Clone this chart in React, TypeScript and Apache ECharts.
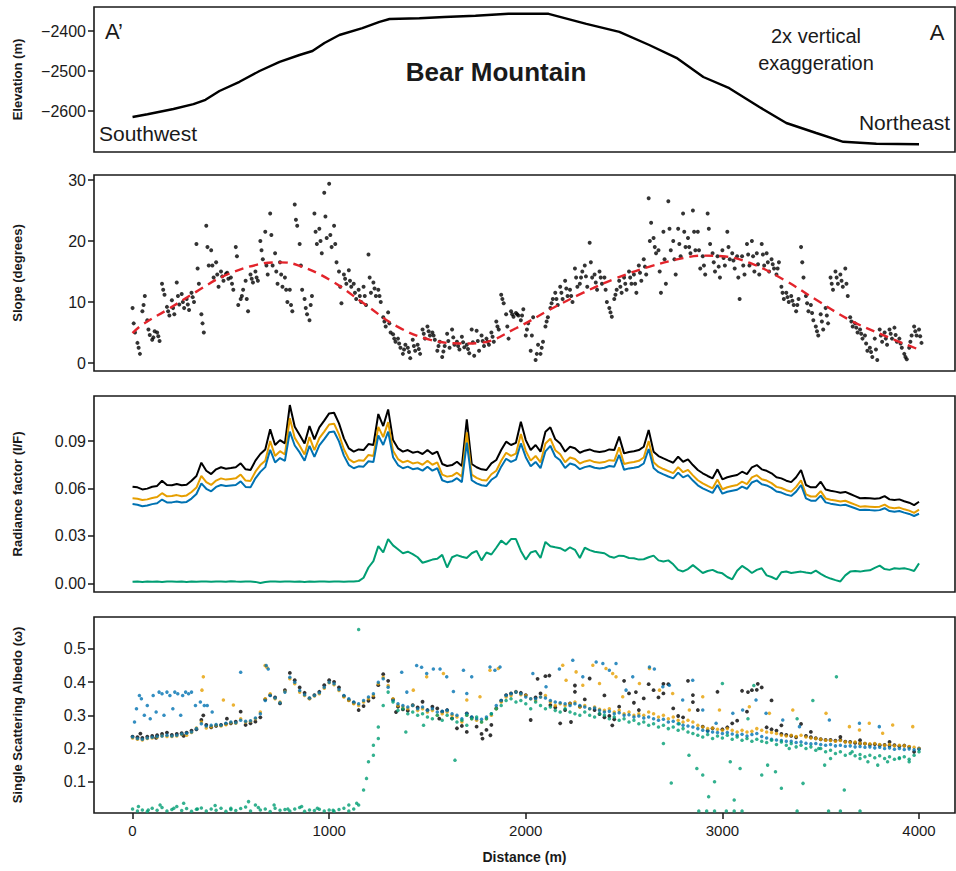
import React, { useEffect, useRef } from "react";
import * as echarts from "echarts";

// Sampling positions along the profile (m)
const distance = [
  0, 25, 50, 75, 100, 125, 150, 175, 200, 225, 250, 275, 300, 325, 350, 375,
  400, 425, 450, 475, 500, 525, 550, 575, 600, 625, 650, 675, 700, 725, 750, 775,
  800, 825, 850, 875, 900, 925, 950, 975, 1000, 1025, 1050, 1075, 1100, 1125, 1150, 1175,
  1200, 1225, 1250, 1275, 1300, 1325, 1350, 1375, 1400, 1425, 1450, 1475, 1500, 1525, 1550, 1575,
  1600, 1625, 1650, 1675, 1700, 1725, 1750, 1775, 1800, 1825, 1850, 1875, 1900, 1925, 1950, 1975,
  2000, 2025, 2050, 2075, 2100, 2125, 2150, 2175, 2200, 2225, 2250, 2275, 2300, 2325, 2350, 2375,
  2400, 2425, 2450, 2475, 2500, 2525, 2550, 2575, 2600, 2625, 2650, 2675, 2700, 2725, 2750, 2775,
  2800, 2825, 2850, 2875, 2900, 2925, 2950, 2975, 3000, 3025, 3050, 3075, 3100, 3125, 3150, 3175,
  3200, 3225, 3250, 3275, 3300, 3325, 3350, 3375, 3400, 3425, 3450, 3475, 3500, 3525, 3550, 3575,
  3600, 3625, 3650, 3675, 3700, 3725, 3750, 3775, 3800, 3825, 3850, 3875, 3900, 3925, 3950, 3975,
  4000,
];

const elevationProfile = [
  [0, -2615], [76, -2608], [208, -2595], [310, -2583], [371, -2572], [442, -2550], [544, -2527],
  [646, -2500], [748, -2477], [849, -2460], [915, -2450], [976, -2430], [1052, -2410], [1169, -2393],
  [1256, -2377], [1307, -2370], [1459, -2368], [1586, -2365], [1744, -2362], [1912, -2357],
  [2116, -2357], [2308, -2382], [2476, -2402], [2628, -2435], [2766, -2467], [2903, -2515],
  [3035, -2543], [3188, -2590], [3325, -2630], [3477, -2655], [3615, -2677], [3783, -2682], [4000, -2683],
];

const slopeA = [
  9.0, 3.3, 8.5, 7.0, 3.8, 5.0, 13.0, 9.2,
  10.3, 13.2, 11.3, 10.5, 11.5, 19.5, 8.0, 22.5,
  18.5, 16.5, 15.0, 14.6, 14.0, 19.0, 10.5, 13.5,
  14.5, 15.0, 20.0, 21.5, 24.5, 18.0, 16.5, 14.0,
  12.0, 26.0, 19.5, 10.5, 7.0, 24.5, 22.0, 27.9,
  29.4, 22.5, 15.0, 14.5, 15.2, 13.0, 12.0, 12.5,
  17.8, 13.2, 12.0, 7.5, 8.3, 4.7, 4.0, 1.5,
  2.5, 3.8, 3.0, 5.5, 6.0, 5.0, 2.0, 1.0,
  4.8, 5.5, 3.5, 4.3, 3.0, 5.5, 5.3, 4.5,
  4.0, 5.0, 6.8, 11.2, 8.0, 8.5, 8.2, 7.0,
  4.5, 2.0, 0.5, 1.5, 6.0, 9.0, 11.5, 12.5,
  13.5, 12.0, 15.5, 13.0, 16.0, 19.7, 14.5, 15.0,
  14.0, 9.0, 10.5, 13.5, 14.0, 15.0, 14.5, 16.0,
  17.0, 27.0, 20.5, 18.5, 21.5, 26.5, 20.0, 22.0,
  24.5, 20.5, 25.0, 21.5, 17.5, 24.5, 18.0, 17.5,
  18.5, 21.5, 18.0, 17.5, 17.5, 19.5, 20.0, 18.0,
  19.5, 18.0, 17.0, 14.5, 12.5, 11.5, 11.0, 8.5,
  19.0, 11.0, 9.5, 6.0, 8.0, 9.0, 14.0, 15.0,
  14.5, 15.5, 7.5, 6.5, 5.5, 4.5, 2.5, 4.0,
  5.5, 5.0, 5.5, 5.8, 4.0, 1.5, 2.5, 6.0,
  5.5,
];

const slopeB = [
  5.0, 1.5, 11.0, 4.6, 5.2, 3.6, 11.2, 7.8,
  8.0, 9.6, 9.0, 8.7, 10.0, 13.0, 5.0, 16.0,
  14.0, 12.5, 13.5, 13.8, 12.0, 9.5, 12.0, 8.5,
  13.2, 13.5, 17.0, 14.5, 16.0, 13.0, 12.5, 10.0,
  8.5, 22.5, 12.0, 8.0, 11.0, 19.5, 18.0, 20.5,
  19.0, 16.5, 9.8, 13.0, 12.5, 10.5, 10.0, 9.5,
  11.5, 11.0, 10.0, 6.0, 5.0, 3.5, 2.5, 3.0,
  0.8, 2.0, 1.5, 4.0, 4.5, 3.8, 3.5, 2.8,
  2.5, 3.0, 2.2, 2.6, 1.6, 1.2, 2.0, 2.8,
  3.0, 3.5, 5.5, 9.8, 4.0, 7.6, 7.8, 8.8,
  6.5, 7.5, 3.0, 3.5, 7.5, 10.5, 9.5, 10.5,
  11.0, 10.0, 12.5, 15.0, 12.5, 14.0, 12.0, 13.0,
  10.0, 7.6, 12.0, 11.5, 12.0, 13.0, 11.5, 13.5,
  14.5, 23.0, 18.0, 11.5, 13.0, 18.5, 14.5, 17.5,
  19.0, 18.0, 18.5, 15.5, 14.5, 19.5, 15.0, 14.0,
  16.0, 17.0, 15.5, 10.5, 14.5, 16.0, 15.0, 14.5,
  16.0, 15.0, 15.5, 16.5, 10.5, 10.0, 9.5, 10.5,
  14.0, 8.5, 7.0, 4.5, 5.5, 6.5, 12.0, 13.0,
  12.5, 11.0, 6.0, 5.0, 4.0, 2.0, 1.0, 0.5,
  3.5, 3.0, 4.0, 3.5, 2.5, 0.6, 4.5, 4.5,
  3.3,
];

const slopeC = [
  6.5, 2.5, 9.5, 5.5, 4.2, 4.4, 12.0, 8.5,
  9.0, 11.0, 10.0, 9.6, 10.8, 15.5, 6.5, 19.0,
  16.0, 14.5, 14.2, 14.8, 13.0, 17.5, 11.0, 10.5,
  13.8, 14.0, 18.5, 16.0, 21.0, 15.0, 14.5, 12.0,
  9.5, 23.5, 16.0, 9.0, 9.5, 21.5, 20.0, 24.0,
  21.0, 19.5, 12.5, 13.8, 13.5, 11.5, 11.0, 11.0,
  14.0, 12.2, 11.0, 6.8, 6.5, 4.0, 3.2, 2.2,
  1.8, 2.8, 2.3, 4.8, 5.2, 4.5, 2.8, 1.9,
  3.6, 4.2, 2.8, 3.4, 2.3, 3.4, 3.6, 3.6,
  3.5, 4.3, 6.0, 10.5, 6.0, 8.0, 8.0, 7.8,
  5.5, 4.5, 1.5, 2.5, 6.8, 9.8, 10.5, 11.5,
  12.2, 11.0, 14.0, 14.0, 14.2, 16.5, 13.2, 14.0,
  12.0, 8.3, 11.2, 12.5, 13.0, 14.0, 13.0, 14.8,
  15.8, 20.0, 19.0, 15.0, 17.0, 22.0, 17.0, 19.5,
  21.5, 19.0, 21.5, 18.5, 16.0, 22.0, 16.5, 15.8,
  17.2, 19.0, 16.8, 14.0, 16.0, 17.8, 17.5, 16.2,
  17.8, 16.5, 16.2, 15.5, 11.5, 10.8, 10.2, 9.5,
  16.5, 9.8, 8.2, 5.2, 6.8, 7.8, 13.0, 14.0,
  13.5, 13.0, 6.8, 5.8, 4.8, 3.2, 1.8, 2.2,
  4.5, 4.0, 4.8, 4.6, 3.2, 1.0, 3.5, 5.2,
  4.4,
];

const slopeTrend = [
  [0, 4.9], [50, 6.3], [175, 8.7], [325, 11.7], [460, 14.2], [630, 16.1], [750, 16.5], [835, 16.1],
  [1000, 13.7], [1175, 9.8], [1345, 6.0], [1515, 3.8], [1680, 3.2], [1770, 3.3], [1950, 5.7],
  [2120, 8.7], [2290, 11.5], [2460, 13.9], [2630, 15.8], [2800, 17.2], [2900, 17.6], [3000, 17.5],
  [3140, 16.4], [3310, 13.7], [3475, 10.4], [3645, 7.1], [3815, 4.6], [4000, 2.2],
];

const radianceBlack = [
  0.0611, 0.0607, 0.0594, 0.0599, 0.0611, 0.0616, 0.0649, 0.0622,
  0.062, 0.0628, 0.062, 0.0624, 0.0649, 0.0679, 0.0763, 0.0712,
  0.0691, 0.0721, 0.0734, 0.0725, 0.0729, 0.0734, 0.0759, 0.0721,
  0.0717, 0.0776, 0.0818, 0.0847, 0.0974, 0.0875, 0.0906, 0.0885,
  0.1128, 0.0991, 0.0938, 0.0885, 0.0995, 0.0911, 0.0987, 0.1029,
  0.1075, 0.1079, 0.1012, 0.0917, 0.0854, 0.0833, 0.0847, 0.0843,
  0.0881, 0.0875, 0.1071, 0.0995, 0.11, 0.0906, 0.0854, 0.0833,
  0.0843, 0.0826, 0.0833, 0.0818, 0.0843, 0.0818, 0.0833, 0.0755,
  0.0742, 0.0748, 0.0769, 0.0742, 0.1037, 0.0755, 0.0734, 0.0721,
  0.0717, 0.0759, 0.078, 0.0843, 0.0896, 0.0875, 0.0889, 0.1022,
  0.0906, 0.0843, 0.0875, 0.0833, 0.0959, 0.0987, 0.0911, 0.0885,
  0.0833, 0.0864, 0.0854, 0.0826, 0.0839, 0.0847, 0.0835, 0.0831,
  0.0835, 0.0847, 0.0843, 0.0928, 0.0822, 0.0831, 0.0835, 0.0843,
  0.0864, 0.097, 0.0833, 0.0805, 0.079, 0.0776, 0.0763, 0.0801,
  0.0769, 0.0784, 0.0748, 0.0717, 0.0696, 0.0679, 0.0664, 0.0721,
  0.0658, 0.0671, 0.0679, 0.0685, 0.0706, 0.0691, 0.0734, 0.0748,
  0.0721, 0.0712, 0.0696, 0.0671, 0.0664, 0.0649, 0.064, 0.0671,
  0.0717, 0.0622, 0.0607, 0.0607, 0.0643, 0.0594, 0.0586, 0.058,
  0.0573, 0.0578, 0.0565, 0.0552, 0.0538, 0.054, 0.0538, 0.0535,
  0.0538, 0.0552, 0.0531, 0.0527, 0.0531, 0.0519, 0.051, 0.0495,
  0.0516,
];

const radianceOrange = [
  0.0538, 0.0535, 0.0527, 0.0531, 0.054, 0.0546, 0.057, 0.055,
  0.0552, 0.0558, 0.0551, 0.0556, 0.0578, 0.0606, 0.068, 0.064,
  0.0622, 0.065, 0.0664, 0.0656, 0.066, 0.0664, 0.0688, 0.065,
  0.0648, 0.0706, 0.0748, 0.0776, 0.09, 0.0806, 0.0836, 0.0815,
  0.1045, 0.092, 0.087, 0.0815, 0.0925, 0.0842, 0.0918, 0.096,
  0.1005, 0.101, 0.0942, 0.0848, 0.0786, 0.0765, 0.0778, 0.0775,
  0.0812, 0.0806, 0.099, 0.0925, 0.102, 0.0838, 0.0786, 0.0765,
  0.0775, 0.0758, 0.0765, 0.075, 0.0775, 0.075, 0.0765, 0.0688,
  0.0675, 0.068, 0.07, 0.0675, 0.0955, 0.0688, 0.0667, 0.0654,
  0.065, 0.069, 0.0712, 0.0775, 0.0826, 0.0806, 0.082, 0.0945,
  0.0838, 0.0776, 0.0806, 0.0765, 0.0885, 0.0915, 0.0842, 0.0816,
  0.0766, 0.0796, 0.0786, 0.0758, 0.0771, 0.0779, 0.0767, 0.0763,
  0.0767, 0.0779, 0.0775, 0.086, 0.0755, 0.0763, 0.0767, 0.0775,
  0.0796, 0.09, 0.0766, 0.0738, 0.0723, 0.071, 0.0697, 0.0735,
  0.0703, 0.0718, 0.0683, 0.0652, 0.0632, 0.0616, 0.0601, 0.0656,
  0.0595, 0.0608, 0.0616, 0.0622, 0.0643, 0.0628, 0.067, 0.0684,
  0.0658, 0.065, 0.0634, 0.061, 0.0603, 0.0589, 0.058, 0.061,
  0.0652, 0.0563, 0.0549, 0.0549, 0.0583, 0.0537, 0.0529, 0.0524,
  0.0517, 0.0522, 0.051, 0.0498, 0.0485, 0.0487, 0.0485, 0.0482,
  0.0485, 0.0498, 0.0479, 0.0475, 0.0479, 0.0468, 0.046, 0.0446,
  0.0466,
];

const radianceBlue = [
  0.0501, 0.0497, 0.0488, 0.0492, 0.0501, 0.0506, 0.053, 0.0512,
  0.0512, 0.0518, 0.0511, 0.0515, 0.0536, 0.0565, 0.0632, 0.0598,
  0.0582, 0.061, 0.0622, 0.0615, 0.0619, 0.0622, 0.0645, 0.061,
  0.0607, 0.0664, 0.0705, 0.0735, 0.0845, 0.0765, 0.0792, 0.0775,
  0.096, 0.0872, 0.0828, 0.0775, 0.087, 0.08, 0.0872, 0.0912,
  0.0955, 0.096, 0.0898, 0.0808, 0.0748, 0.0728, 0.074, 0.0738,
  0.0772, 0.0767, 0.0935, 0.0875, 0.096, 0.0798, 0.0748, 0.0728,
  0.0738, 0.0722, 0.0728, 0.0713, 0.0738, 0.0713, 0.0728, 0.0652,
  0.064, 0.0645, 0.0665, 0.064, 0.089, 0.0652, 0.0632, 0.062,
  0.0616, 0.0655, 0.0676, 0.0738, 0.0788, 0.0768, 0.0782, 0.0885,
  0.0798, 0.074, 0.0768, 0.0728, 0.0835, 0.087, 0.0802, 0.0778,
  0.073, 0.0758, 0.0748, 0.0722, 0.0735, 0.0742, 0.0731, 0.0727,
  0.0731, 0.0742, 0.0738, 0.0812, 0.0718, 0.0727, 0.0731, 0.0738,
  0.0758, 0.085, 0.073, 0.0703, 0.0689, 0.0676, 0.0664, 0.07,
  0.067, 0.0684, 0.065, 0.062, 0.0601, 0.0586, 0.0572, 0.0622,
  0.0567, 0.0579, 0.0586, 0.0592, 0.0612, 0.0598, 0.0638, 0.0651,
  0.0627, 0.0619, 0.0604, 0.0581, 0.0574, 0.0561, 0.0553, 0.058,
  0.0622, 0.0537, 0.0523, 0.0523, 0.0555, 0.0512, 0.0504, 0.0499,
  0.0493, 0.0497, 0.0486, 0.0475, 0.0463, 0.0465, 0.0463, 0.046,
  0.0463, 0.0475, 0.0457, 0.0453, 0.0457, 0.0447, 0.0439, 0.0426,
  0.044,
];

const radianceGreen = [
  0.001, 0.0011, 0.0009, 0.0012, 0.001, 0.0011, 0.0009, 0.0012,
  0.0011, 0.001, 0.0012, 0.0009, 0.0011, 0.001, 0.0012, 0.0011,
  0.001, 0.0012, 0.0011, 0.001, 0.0013, 0.0011, 0.001, 0.0012,
  0.0011, 0.0009, 0.0002, 0.0008, 0.0011, 0.0012, 0.001, 0.0011,
  0.0012, 0.001, 0.0011, 0.0009, 0.0012, 0.001, 0.0011, 0.0012,
  0.001, 0.0011, 0.0012, 0.001, 0.0011, 0.0012, 0.0014, 0.0035,
  0.01, 0.014, 0.0235, 0.0195, 0.028, 0.024, 0.0215, 0.019,
  0.02, 0.0185, 0.0165, 0.013, 0.014, 0.015, 0.0155, 0.018,
  0.01, 0.0165, 0.0178, 0.0168, 0.016, 0.019, 0.0205, 0.0145,
  0.0195, 0.0182, 0.0225, 0.027, 0.0245, 0.028, 0.028, 0.0205,
  0.015, 0.0195, 0.0205, 0.016, 0.0262, 0.0235, 0.0228, 0.0222,
  0.0205, 0.0228, 0.0212, 0.016, 0.0225, 0.021, 0.02, 0.0195,
  0.019, 0.017, 0.0162, 0.0175, 0.0172, 0.016, 0.0158, 0.015,
  0.0152, 0.0165, 0.0175, 0.0145, 0.0138, 0.0145, 0.012, 0.0085,
  0.0075, 0.009, 0.0115, 0.009, 0.0065, 0.0078, 0.0085, 0.007,
  0.0063, 0.004, 0.0025, 0.008, 0.011, 0.009, 0.0065, 0.0085,
  0.0095, 0.005, 0.004, 0.0025, 0.007, 0.0075, 0.0065, 0.007,
  0.0074, 0.0068, 0.0063, 0.008, 0.006, 0.0042, 0.003, 0.002,
  0.0012, 0.005, 0.0074, 0.0078, 0.0074, 0.008, 0.0082, 0.0098,
  0.0112, 0.009, 0.0085, 0.0095, 0.0092, 0.0095, 0.0088, 0.0078,
  0.0126,
];

const albedoBlack = [
  0.236, 0.234, 0.232, 0.236, 0.238, 0.24, 0.244, 0.248,
  0.241, 0.244, 0.246, 0.248, 0.254, 0.258, 0.286, 0.271,
  0.264, 0.268, 0.271, 0.274, 0.276, 0.281, 0.311, 0.271,
  0.276, 0.281, 0.294, 0.348, 0.361, 0.354, 0.336, 0.376,
  0.428, 0.406, 0.384, 0.368, 0.351, 0.361, 0.371, 0.391,
  0.406, 0.401, 0.384, 0.358, 0.346, 0.338, 0.316, 0.328,
  0.344, 0.354, 0.391, 0.424, 0.404, 0.348, 0.326, 0.318,
  0.314, 0.331, 0.324, 0.341, 0.316, 0.326, 0.321, 0.311,
  0.316, 0.291, 0.261, 0.268, 0.306, 0.294, 0.266, 0.244,
  0.256, 0.271, 0.321, 0.344, 0.361, 0.366, 0.371, 0.368,
  0.361, 0.286, 0.354, 0.366, 0.418, 0.331, 0.324, 0.276,
  0.316, 0.336, 0.371, 0.326, 0.348, 0.411, 0.316, 0.304,
  0.294, 0.298, 0.288, 0.326, 0.404, 0.366, 0.338, 0.316,
  0.351, 0.394, 0.376, 0.354, 0.366, 0.394, 0.321, 0.298,
  0.294, 0.404, 0.361, 0.316, 0.266, 0.254, 0.261, 0.371,
  0.258, 0.264, 0.276, 0.284, 0.374, 0.311, 0.376, 0.377,
  0.384, 0.264, 0.258, 0.254, 0.244, 0.241, 0.238, 0.234,
  0.274, 0.238, 0.234, 0.231, 0.228, 0.226, 0.226, 0.224,
  0.226, 0.221, 0.22, 0.217, 0.215, 0.215, 0.212, 0.213,
  0.21, 0.211, 0.209, 0.21, 0.207, 0.209, 0.205, 0.19,
  0.2,
];

const albedoOrange = [
  0.232, 0.228, 0.226, 0.23, 0.232, 0.234, 0.238, 0.236,
  0.236, 0.238, 0.242, 0.24, 0.248, 0.262, 0.28, 0.262,
  0.266, 0.27, 0.268, 0.272, 0.278, 0.276, 0.29, 0.28,
  0.282, 0.29, 0.31, 0.35, 0.365, 0.35, 0.34, 0.372,
  0.41, 0.395, 0.37, 0.36, 0.35, 0.358, 0.365, 0.382,
  0.398, 0.392, 0.375, 0.355, 0.345, 0.335, 0.33, 0.34,
  0.35, 0.36, 0.395, 0.415, 0.39, 0.35, 0.33, 0.325,
  0.32, 0.33, 0.315, 0.32, 0.31, 0.315, 0.3, 0.305,
  0.31, 0.3, 0.295, 0.28, 0.3, 0.29, 0.285, 0.28,
  0.29, 0.3, 0.32, 0.34, 0.355, 0.36, 0.37, 0.362,
  0.36, 0.35, 0.345, 0.355, 0.36, 0.34, 0.33, 0.335,
  0.33, 0.335, 0.34, 0.325, 0.33, 0.32, 0.325, 0.318,
  0.315, 0.32, 0.31, 0.315, 0.305, 0.31, 0.3, 0.305,
  0.3, 0.31, 0.305, 0.295, 0.3, 0.29, 0.295, 0.285,
  0.28, 0.285, 0.28, 0.27, 0.265, 0.26, 0.262, 0.258,
  0.255, 0.26, 0.255, 0.25, 0.255, 0.25, 0.252, 0.26,
  0.255, 0.25, 0.248, 0.245, 0.24, 0.238, 0.24, 0.236,
  0.24, 0.235, 0.232, 0.23, 0.228, 0.225, 0.224, 0.222,
  0.224, 0.22, 0.218, 0.22, 0.216, 0.215, 0.214, 0.215,
  0.212, 0.21, 0.212, 0.208, 0.21, 0.208, 0.206, 0.204,
  0.2,
];

const albedoBlue = [
  0.235, 0.23, 0.228, 0.232, 0.234, 0.236, 0.238, 0.24,
  0.238, 0.24, 0.244, 0.246, 0.25, 0.26, 0.275, 0.268,
  0.27, 0.272, 0.27, 0.276, 0.28, 0.278, 0.285, 0.282,
  0.284, 0.292, 0.305, 0.345, 0.36, 0.352, 0.338, 0.37,
  0.415, 0.4, 0.375, 0.362, 0.352, 0.36, 0.368, 0.385,
  0.4, 0.395, 0.378, 0.36, 0.35, 0.34, 0.335, 0.345,
  0.355, 0.365, 0.4, 0.41, 0.385, 0.345, 0.335, 0.33,
  0.325, 0.33, 0.32, 0.325, 0.315, 0.32, 0.31, 0.312,
  0.315, 0.305, 0.3, 0.29, 0.305, 0.295, 0.29, 0.288,
  0.295, 0.305, 0.33, 0.345, 0.36, 0.365, 0.37, 0.365,
  0.355, 0.35, 0.35, 0.355, 0.352, 0.345, 0.34, 0.338,
  0.335, 0.33, 0.335, 0.33, 0.325, 0.32, 0.322, 0.315,
  0.31, 0.312, 0.305, 0.308, 0.3, 0.302, 0.295, 0.298,
  0.292, 0.295, 0.29, 0.285, 0.288, 0.28, 0.282, 0.275,
  0.27, 0.268, 0.265, 0.26, 0.255, 0.252, 0.25, 0.248,
  0.245, 0.248, 0.244, 0.24, 0.243, 0.238, 0.242, 0.245,
  0.236, 0.232, 0.228, 0.226, 0.224, 0.222, 0.222, 0.218,
  0.22, 0.216, 0.214, 0.215, 0.212, 0.21, 0.212, 0.208,
  0.21, 0.207, 0.208, 0.205, 0.206, 0.204, 0.205, 0.202,
  0.204, 0.2, 0.202, 0.198, 0.2, 0.197, 0.199, 0.196,
  0.198,
];

const albedoGreen = [
  0.018, 0.012, 0.015, 0.01, 0.02, 0.014, 0.022, 0.012,
  0.016, 0.025, 0.013, 0.019, 0.011, 0.017, 0.021, 0.012,
  0.018, 0.014, 0.02, 0.011, 0.016, 0.013, 0.019, 0.024,
  0.012, 0.03, 0.015, 0.018, 0.01, 0.02, 0.014, 0.016,
  0.012, 0.018, 0.022, 0.011, 0.015, 0.013, 0.017, 0.012,
  0.015, 0.011, 0.016, 0.02, 0.012, 0.018, 0.03, 0.075,
  0.16, 0.21, 0.265, 0.33, 0.37, 0.34, 0.315, 0.32,
  0.305, 0.31, 0.3, 0.305, 0.295, 0.29, 0.3, 0.285,
  0.3, 0.29, 0.28, 0.285, 0.3, 0.29, 0.295, 0.28,
  0.29, 0.305, 0.32, 0.33, 0.345, 0.35, 0.34, 0.345,
  0.335, 0.32, 0.34, 0.33, 0.32, 0.325, 0.315, 0.31,
  0.32, 0.31, 0.305, 0.3, 0.31, 0.3, 0.295, 0.305,
  0.3, 0.29, 0.295, 0.285, 0.29, 0.28, 0.285, 0.275,
  0.28, 0.27, 0.275, 0.265, 0.27, 0.26, 0.265, 0.255,
  0.26, 0.25, 0.245, 0.24, 0.235, 0.242, 0.23, 0.238,
  0.232, 0.24, 0.228, 0.235, 0.225, 0.23, 0.222, 0.228,
  0.222, 0.218, 0.225, 0.212, 0.22, 0.21, 0.215, 0.205,
  0.21, 0.2, 0.205, 0.195, 0.2, 0.19, 0.195, 0.185,
  0.19, 0.18, 0.185, 0.178, 0.182, 0.175, 0.18, 0.172,
  0.178, 0.17, 0.175, 0.168, 0.172, 0.175, 0.168, 0.18,
  0.19,
];

const albedoBlueScatter = [
  [10, 0.28], [20, 0.32], [35, 0.36], [45, 0.35], [60, 0.3], [75, 0.33], [90, 0.29], [105, 0.36],
  [120, 0.31], [135, 0.37], [150, 0.365], [160, 0.3], [175, 0.37], [190, 0.36], [205, 0.32], [215, 0.37],
  [230, 0.365], [245, 0.3], [255, 0.36], [270, 0.37], [285, 0.365], [300, 0.37], [320, 0.33], [345, 0.34],
  [365, 0.33], [380, 0.33], [405, 0.31], [550, 0.43], [680, 0.45], [690, 0.44], [1369, 0.43], [1395, 0.37],
  [1445, 0.45], [1470, 0.445], [1496, 0.426], [1530, 0.44], [1564, 0.44], [1598, 0.416], [1632, 0.372],
  [1683, 0.436], [1700, 0.366], [1725, 0.416], [1818, 0.446], [1843, 0.436], [1869, 0.446], [2036, 0.426],
  [2103, 0.386], [2171, 0.44], [2239, 0.466], [2290, 0.416], [2358, 0.461], [2392, 0.456], [2425, 0.436],
  [2459, 0.456], [2510, 0.376], [2544, 0.416], [2629, 0.446], [2654, 0.44], [2697, 0.386], [2730, 0.391],
  [2798, 0.346], [2849, 0.406], [2900, 0.316], [2968, 0.276], [3053, 0.306], [3103, 0.316], [3171, 0.346],
  [3222, 0.306], [3307, 0.286], [3392, 0.266], [3544, 0.286], [3697, 0.276], [3798, 0.266],
];

const albedoOrangeScatter = [
  [353, 0.376], [360, 0.416], [462, 0.346], [513, 0.331], [674, 0.45], [683, 0.445], [1428, 0.376],
  [1496, 0.416], [1581, 0.426], [1700, 0.346], [1767, 0.356], [1818, 0.436], [1860, 0.441], [2188, 0.451],
  [2205, 0.406], [2256, 0.431], [2290, 0.391], [2341, 0.451], [2375, 0.396], [2408, 0.441], [2442, 0.426],
  [2459, 0.416], [2493, 0.356], [2578, 0.396], [2629, 0.441], [2680, 0.376], [2747, 0.366], [2832, 0.316],
  [2900, 0.356], [2985, 0.316], [3137, 0.326], [3239, 0.306], [3358, 0.316], [3527, 0.306], [3646, 0.266],
  [3697, 0.256], [3747, 0.276], [3815, 0.246], [3866, 0.271], [3968, 0.266],
];

const albedoBlackScatter = [
  [40, 0.245], [120, 0.232], [260, 0.238], [360, 0.3], [480, 0.29], [1340, 0.31], [1560, 0.29],
  [1700, 0.25], [1780, 0.23], [1820, 0.24], [2060, 0.41], [2120, 0.42], [2230, 0.28], [2250, 0.39],
  [2400, 0.36], [2440, 0.27], [2560, 0.37], [2700, 0.395], [2850, 0.34], [3130, 0.37], [3180, 0.395],
  [3250, 0.345], [3300, 0.27], [3450, 0.25], [3600, 0.235], [3700, 0.225], [3850, 0.22],
];

const albedoGreenScatter = [
  [30, 0.025], [80, 0.015], [140, 0.03], [210, 0.02], [260, 0.035], [330, 0.018], [420, 0.028], [500, 0.02],
  [590, 0.04], [640, 0.022], [720, 0.03], [790, 0.018], [860, 0.025], [940, 0.02], [1020, 0.014], [1100, 0.03],
  [1140, 0.035], [1150, 0.559], [1190, 0.11], [1225, 0.18], [1250, 0.23], [1390, 0.25], [1480, 0.27],
  [1640, 0.165], [1700, 0.27], [2700, 0.215], [2740, 0.096], [2780, 0.275], [2830, 0.18], [2870, 0.14],
  [2900, 0.12], [2930, 0.055], [2960, 0.1], [3000, 0.396], [3040, 0.16], [3060, 0.045], [3090, 0.14],
  [3130, 0.29], [3160, 0.39], [3200, 0.12], [3230, 0.15], [3270, 0.13], [3300, 0.08], [3340, 0.2],
  [3380, 0.29], [3410, 0.095], [3460, 0.345], [3490, 0.2], [3520, 0.15], [3550, 0.17], [3580, 0.416],
  [3620, 0.075], [3660, 0.19], [3700, 0.17], [3740, 0.16], [3790, 0.15], [3840, 0.16], [3900, 0.17],
  [3950, 0.16], [2880, 0.012], [2920, 0.012], [2960, 0.012], [3020, 0.012], [3060, 0.012], [3100, 0.012],
  [3380, 0.012], [3540, 0.012], [3600, 0.012], [3700, 0.012],
];

const distanceTicks = [0, 1000, 2000, 3000, 4000];
const elevationTicks = [-2600, -2500, -2400];
const slopeTicks = [0, 10, 20, 30];
const radianceTicks = [0, 0.03, 0.06, 0.09];
const albedoTicks = [0.1, 0.2, 0.3, 0.4, 0.5];

const C_BLACK = "#000000";
const C_ORANGE = "#E69F00";
const C_BLUE = "#0072B2";
const C_GREEN = "#009E73";
const C_RED = "#E3242B";
const FONT = "Liberation Sans, Arial, Helvetica, sans-serif";
const INK = "#1a1a1a";

const pair = (vals: number[]) => distance.map((d, i) => [d, vals[i]]);
const pairShift = (vals: number[], s: number) => distance.map((d, i) => [d + s, vals[i]]);

export default function App() {
  const ref = useRef<HTMLDivElement>(null);

  useEffect(() => {
    if (!ref.current) return;
    const chart = echarts.init(ref.current, null, { renderer: "svg" });

    const grids = [
      { left: 94, right: 1, top: 7, height: 145 },
      { left: 94, right: 1, top: 175, height: 196 },
      { left: 94, right: 1, top: 396, height: 196 },
      { left: 94, right: 1, top: 617, height: 196 },
    ].map((g) => ({ ...g, show: true, borderColor: INK, borderWidth: 1.6, backgroundColor: "transparent" }));

    const xAxisBase = (i: number) => ({
      type: "value",
      gridIndex: i,
      min: -196,
      max: 4183,
      axisLine: { show: false, onZero: false },
      splitLine: { show: false },
      axisTick: {
        show: i === 3,
        customValues: distanceTicks,
        length: 6,
        lineStyle: { color: INK, width: 1.5 },
      },
      axisLabel: {
        show: i === 3,
        customValues: distanceTicks,
        fontSize: 15,
        color: INK,
        fontFamily: FONT,
        margin: 10,
        formatter: (v: number) => String(v),
      },
      name: i === 3 ? "Distance (m)" : "",
      nameLocation: "middle",
      nameGap: 37,
      nameTextStyle: { fontSize: 14, fontWeight: "bold", color: INK, fontFamily: FONT },
    });

    const yAxisBase = (i: number, min: number, max: number, ticks: number[], name: string, fmt: (v: number) => string) => ({
      type: "value",
      gridIndex: i,
      min,
      max,
      position: "left",
      axisLine: { show: false, onZero: false },
      splitLine: { show: false },
      axisTick: { show: true, customValues: ticks, length: 6, lineStyle: { color: INK, width: 1.5 } },
      axisLabel: {
        show: true,
        customValues: ticks,
        fontSize: 16,
        color: INK,
        fontFamily: FONT,
        margin: 8,
        formatter: fmt,
      },
      name,
      nameLocation: "middle",
      nameRotate: 90,
      nameGap: 70,
      nameTextStyle: { fontSize: 13, fontWeight: "bold", color: INK, fontFamily: FONT },
    });

    const minus = (v: number) => (v < 0 ? "\u2212" + Math.abs(v) : String(v));

    const scatter = (name: string, xi: number, data: number[][], color: string, size: number) => ({
      name,
      type: "scatter",
      xAxisIndex: xi,
      yAxisIndex: xi,
      data,
      symbol: "circle",
      symbolSize: size,
      itemStyle: { color },
      silent: true,
    });
    const line = (name: string, xi: number, data: number[][], color: string, width: number, extra: any = {}) => ({
      name,
      type: "line",
      xAxisIndex: xi,
      yAxisIndex: xi,
      data,
      showSymbol: false,
      symbol: "none",
      lineStyle: { color, width, ...extra },
      silent: true,
    });

    const option: any = {
      animation: false,
      backgroundColor: "#ffffff",
      grid: grids,
      xAxis: [0, 1, 2, 3].map(xAxisBase),
      yAxis: [
        yAxisBase(0, -2702.5, -2340, elevationTicks, "Elevation (m)", minus),
        yAxisBase(1, -1.31, 30.82, slopeTicks, "Slope (degrees)", (v) => String(v)),
        yAxisBase(2, -0.0055, 0.1185, radianceTicks, "Radiance factor (I/F)", (v) => v.toFixed(2)),
        yAxisBase(3, 0.0057, 0.5964, albedoTicks, "Single Scattering Albedo (\u03c9)", (v) => v.toFixed(1)),
      ],
      series: [
        line("Elevation", 0, elevationProfile, C_BLACK, 2.4),
        scatter("Slope A", 1, pair(slopeA), C_BLACK, 4),
        scatter("Slope B", 1, pairShift(slopeB, 12.5), C_BLACK, 4),
        scatter("Slope C", 1, pairShift(slopeC, 6), C_BLACK, 4),
        { ...line("Slope trend", 1, slopeTrend, C_RED, 2.4, { type: [9, 6] }), smooth: 0.4, z: 5 },
        line("I/F black", 2, pair(radianceBlack), C_BLACK, 2),
        line("I/F orange", 2, pair(radianceOrange), C_ORANGE, 2),
        line("I/F blue", 2, pair(radianceBlue), C_BLUE, 2),
        line("I/F green", 2, pair(radianceGreen), C_GREEN, 2),
        scatter("w black", 3, pair(albedoBlack), C_BLACK, 3.8),
        scatter("w black s", 3, albedoBlackScatter, C_BLACK, 3.8),
        scatter("w orange", 3, pair(albedoOrange), C_ORANGE, 3.5),
        scatter("w orange s", 3, albedoOrangeScatter, C_ORANGE, 3.5),
        scatter("w blue", 3, pair(albedoBlue), C_BLUE, 3.5),
        scatter("w blue s", 3, albedoBlueScatter, C_BLUE, 3.5),
        scatter("w green", 3, pair(albedoGreen), C_GREEN, 3.5),
        scatter("w green s", 3, albedoGreenScatter, C_GREEN, 3.5),
      ],
      graphic: [
        { type: "text", left: 105, top: 20, style: { text: "A\u2019", fontSize: 22, fill: INK, fontFamily: FONT } },
        { type: "text", left: 99, top: 123, style: { text: "Southwest", fontSize: 21, fill: INK, fontFamily: FONT } },
        {
          type: "text",
          x: 496,
          y: 72,
          style: { text: "Bear Mountain", fontSize: 26, fontWeight: "bold", fill: INK, fontFamily: FONT, align: "center", verticalAlign: "middle" },
        },
        {
          type: "text",
          x: 816,
          y: 36,
          style: { text: "2x vertical", fontSize: 20, fill: INK, fontFamily: FONT, align: "center", verticalAlign: "middle" },
        },
        {
          type: "text",
          x: 816,
          y: 63,
          style: { text: "exaggeration", fontSize: 20, fill: INK, fontFamily: FONT, align: "center", verticalAlign: "middle" },
        },
        { type: "text", x: 937, y: 32, style: { text: "A", fontSize: 22, fill: INK, fontFamily: FONT, align: "center", verticalAlign: "middle" } },
        {
          type: "text",
          x: 950,
          y: 122,
          style: { text: "Northeast", fontSize: 21, fill: INK, fontFamily: FONT, align: "right", verticalAlign: "middle" },
        },
      ],
    };

    chart.setOption(option);
    return () => chart.dispose();
  }, []);

  return (
    <div
      ref={ref}
      style={{ position: "absolute", left: 0, top: 0, width: 956, height: 871, background: "#fff" }}
    />
  );
}
